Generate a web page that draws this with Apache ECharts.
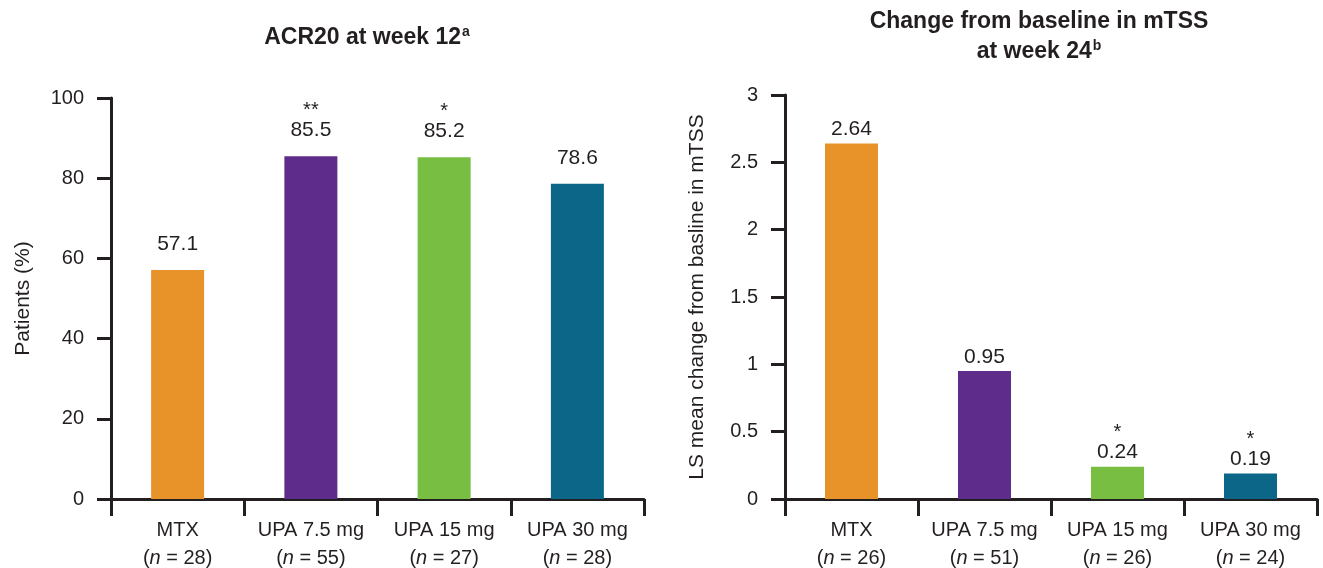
<!DOCTYPE html>
<html><head><meta charset="utf-8">
<script src="https://cdn.jsdelivr.net/npm/echarts@6/dist/echarts.min.js"></script>
<style>html,body{margin:0;padding:0;background:#fff}#c{width:1323px;height:568px}</style>
</head><body><div id="c"></div>
<script>
const categories = ['MTX', 'UPA 7.5 mg', 'UPA 15 mg', 'UPA 30 mg'];
const acrN = [28, 55, 27, 28];
const acrValues = [57.1, 85.5, 85.2, 78.6];
const acrStars = ['', '**', '*', ''];
const mtssN = [26, 51, 26, 24];
const mtssValues = [2.64, 0.95, 0.24, 0.19];
const mtssStars = ['', '', '*', '*'];
const acrTicks = [0, 20, 40, 60, 80, 100];
const mtssTicks = [0, 0.5, 1, 1.5, 2, 2.5, 3];
const colors = ['#E8922A', '#5E2D8C', '#78BE43', '#0B6688'];

const FONT = '"Liberation Sans", Arial, Helvetica, sans-serif';
const INK = '#231f20';

function xLabel(nArr) {
  return function (val, idx) {
    return '{a|' + val + '}\n{a|(}{i|n}{a| = ' + nArr[idx] + ')}';
  };
}
const xRich = {
  a: { fontSize: 20, color: INK, fontFamily: FONT, lineHeight: 28 },
  i: { fontSize: 20, color: INK, fontFamily: FONT, fontStyle: 'italic', lineHeight: 28 }
};
function valueLabel(stars, decimals) {
  return function (p) {
    const s = stars[p.dataIndex];
    const v = p.value.toFixed(decimals);
    return (s ? '{s|' + s + '}\n' : '') + '{v|' + v + '}';
  };
}
const valRich = {
  s: { fontSize: 20, color: INK, fontFamily: FONT, lineHeight: 18 },
  v: { fontSize: 21, color: INK, fontFamily: FONT, lineHeight: 22 }
};

function yAxisBase(ticks, name, gridIndex) {
  return {
    type: 'value', gridIndex: gridIndex,
    min: ticks[0], max: ticks[ticks.length - 1], interval: ticks[1] - ticks[0],
    name: name, nameLocation: 'middle', nameGap: 77, nameRotate: 90,
    nameTextStyle: { fontSize: 21, color: INK, fontFamily: FONT },
    axisLine: { show: true, lineStyle: { color: INK, width: 3 } },
    axisTick: { show: true, length: 14, lineStyle: { color: INK, width: 3 } },
    axisLabel: { fontSize: 20, color: INK, fontFamily: FONT, margin: 27 },
    splitLine: { show: false }
  };
}
function xAxisBase(nArr, gridIndex) {
  return {
    type: 'category', gridIndex: gridIndex, data: categories,
    axisLine: { show: true, lineStyle: { color: INK, width: 3 } },
    axisTick: { show: true, length: 17, lineStyle: { color: INK, width: 3 } },
    axisLabel: { formatter: xLabel(nArr), rich: xRich, margin: 17, interval: 0 }
  };
}
const supStyle = { fontSize: 14, fontWeight: 'bold', color: INK, fontFamily: FONT, lineHeight: 30, padding: [0, 0, 11, 1] };

const chart = echarts.init(document.getElementById('c'), null, { renderer: 'canvas' });
chart.setOption({
  animation: false,
  backgroundColor: '#fff',
  title: [
    {
      text: 'ACR20 at week 12{sup|a}', left: 362, top: 18, textAlign: 'center',
      textStyle: { fontSize: 23, fontWeight: 'bold', color: INK, fontFamily: FONT, lineHeight: 30, rich: { sup: supStyle } }
    },
    {
      text: 'Change from baseline in mTSS\nat week 24{sup|b}', left: 1034, top: 2, textAlign: 'center',
      textStyle: { fontSize: 23, fontWeight: 'bold', color: INK, fontFamily: FONT, lineHeight: 30, rich: { sup: supStyle } }
    }
  ],
  grid: [
    { left: 111, top: 98, width: 533, height: 405 },
    { left: 785, top: 95, width: 532, height: 406 }
  ],
  xAxis: [xAxisBase(acrN, 0), xAxisBase(mtssN, 1)],
  yAxis: [
    yAxisBase(acrTicks, 'Patients (%)', 0),
    yAxisBase(mtssTicks, 'LS mean change from basline in mTSS', 1)
  ],
  series: [
    {
      type: 'bar', xAxisIndex: 0, yAxisIndex: 0, barWidth: 53,
      data: acrValues.map((v, i) => ({ value: v, itemStyle: { color: colors[i] } })),
      label: { show: true, position: 'top', distance: 15, formatter: valueLabel(acrStars, 1), rich: valRich }
    },
    {
      type: 'bar', xAxisIndex: 1, yAxisIndex: 1, barWidth: 53,
      data: mtssValues.map((v, i) => ({ value: v, itemStyle: { color: colors[i] } })),
      label: { show: true, position: 'top', distance: 3, formatter: valueLabel(mtssStars, 2), rich: valRich }
    }
  ]
});
</script>
</body></html>
